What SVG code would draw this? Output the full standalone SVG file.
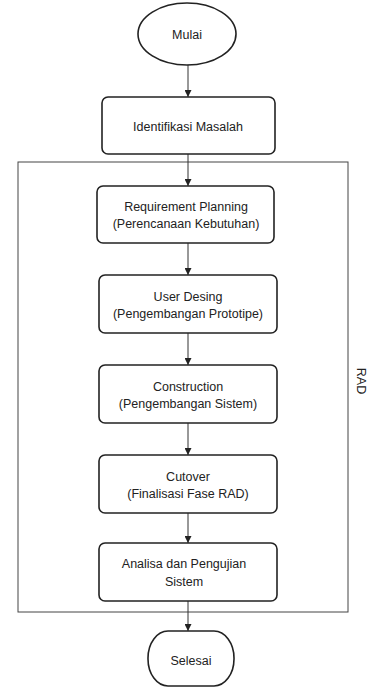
<svg xmlns="http://www.w3.org/2000/svg" width="370" height="688" viewBox="0 0 370 688">
<defs>
<marker id="ah" viewBox="0 0 10 10" refX="10" refY="5" markerWidth="7" markerHeight="7" markerUnits="userSpaceOnUse" orient="auto">
<path d="M0,0 L10,5 L0,10 Z" fill="#222"/>
</marker>
</defs>
<style>
.box{fill:#fff;stroke:#222;stroke-width:1.6}
.frame{fill:none;stroke:#444;stroke-width:1}
.t{font-family:"Liberation Sans",Arial,sans-serif;font-size:12.5px;fill:#222;text-anchor:middle;dominant-baseline:central}
.c{stroke:#333;stroke-width:1;fill:none;marker-end:url(#ah)}
</style>
<rect width="370" height="688" fill="#fff"/>
<g id="rad-frame">
<rect class="frame" x="18" y="162" width="330" height="450"/>
<text class="t" transform="translate(361,381) rotate(90)">RAD</text>
</g>
<g id="connectors">
<line class="c" x1="188" y1="65" x2="188" y2="97"/>
<line class="c" x1="188" y1="154" x2="188" y2="186"/>
<line class="c" x1="188" y1="243" x2="188" y2="275"/>
<line class="c" x1="188" y1="333" x2="188" y2="365"/>
<line class="c" x1="188" y1="423" x2="188" y2="455"/>
<line class="c" x1="188" y1="513" x2="188" y2="543"/>
<line class="c" x1="188" y1="601" x2="188" y2="631"/>
</g>
<g id="mulai">
<ellipse class="box" cx="187" cy="34" rx="49" ry="31"/>
<text class="t" x="187" y="35">Mulai</text>
</g>
<g id="identifikasi">
<rect class="box" x="102" y="97" width="173" height="57" rx="6"/>
<text class="t" x="188" y="127">Identifikasi Masalah</text>
</g>
<g id="requirement">
<rect class="box" x="97" y="186" width="177" height="57" rx="6"/>
<text class="t" x="186" y="207">Requirement Planning</text>
<text class="t" x="186" y="224">(Perencanaan Kebutuhan)</text>
</g>
<g id="userdesign">
<rect class="box" x="99" y="275" width="178" height="58" rx="6"/>
<text class="t" x="188" y="297">User Desing</text>
<text class="t" x="188" y="314">(Pengembangan Prototipe)</text>
</g>
<g id="construction">
<rect class="box" x="99" y="365" width="178" height="58" rx="6"/>
<text class="t" x="188" y="387">Construction</text>
<text class="t" x="188" y="404">(Pengembangan Sistem)</text>
</g>
<g id="cutover">
<rect class="box" x="99" y="455" width="178" height="58" rx="6"/>
<text class="t" x="188" y="477">Cutover</text>
<text class="t" x="188" y="494">(Finalisasi Fase RAD)</text>
</g>
<g id="analisa">
<rect class="box" x="99" y="543" width="178" height="58" rx="6"/>
<text class="t" x="184" y="564">Analisa dan Pengujian</text>
<text class="t" x="184" y="582">Sistem</text>
</g>
<g id="selesai">
<rect class="box" x="148" y="631" width="86" height="55" rx="20" ry="27"/>
<text class="t" x="191" y="661">Selesai</text>
</g>
</svg>
